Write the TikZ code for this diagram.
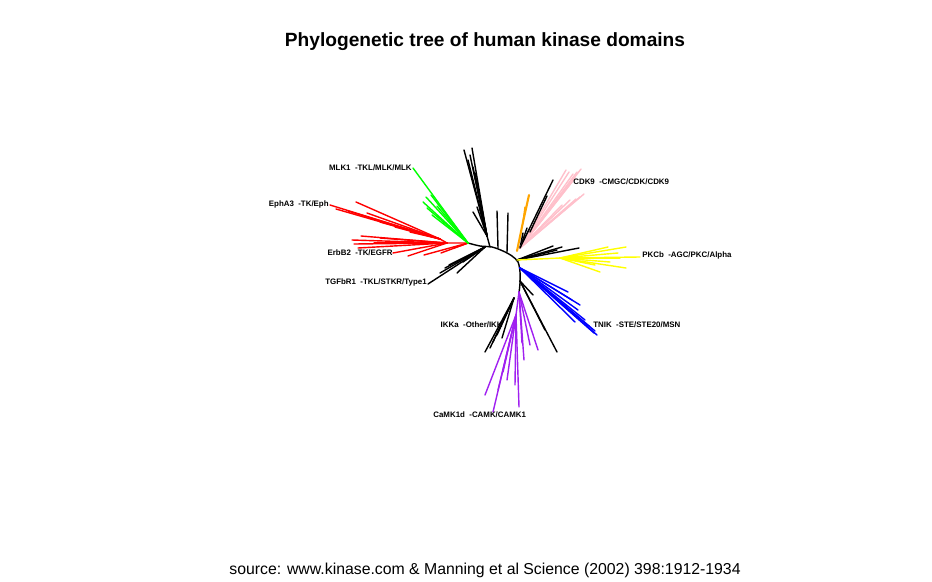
\documentclass[tikz,border=0pt]{standalone}
\usepackage{fontspec}
\setmainfont{Liberation Sans}
\usepackage{xcolor}
\definecolor{tkred}{HTML}{FF0000}
\definecolor{tklgreen}{HTML}{00FF00}
\definecolor{cmgcpink}{HTML}{FFC0CB}
\definecolor{ckorange}{HTML}{FFA500}
\definecolor{agcyellow}{HTML}{FFFF00}
\definecolor{steblue}{HTML}{0000FF}
\definecolor{camkpurple}{HTML}{A020F0}

\begin{document}
\begin{tikzpicture}[x=0.02cm, y=-0.02cm,
    branch/.style={line width=0.8pt, line cap=round},
    tiplabel/.style={font=\bfseries\fontsize{4.5}{5}\selectfont, inner sep=0pt},
    title/.style={font=\bfseries\fontsize{10.9}{13}\selectfont},
    source/.style={font=\fontsize{9}{11}\selectfont}
]
\useasboundingbox (0,0) rectangle (932,581);

% Title and source
\node[title] (title) at (485,42) {Phylogenetic tree of human kinase domains};
\node[source] (source) at (485,570) {source: www.kinase.com \& Manning et al Science (2002) 398:1912-1934};

% Clade roots
\coordinate (tkroot) at (468,243);
\coordinate (ephnode) at (440,239);
\coordinate (egfrnode) at (447,243);
\coordinate (stkrroot) at (485,247);
\coordinate (topnode) at (487,236);
\coordinate (topbase) at (490,247);
\coordinate (orroot) at (517,251);
\coordinate (ornode) at (523,222);
\coordinate (cmgcroot) at (520,248);
\coordinate (agcroot) at (517,260);
\coordinate (agcnode) at (560,258);
\coordinate (steroot) at (520,268);
\coordinate (steother) at (520,281);
\coordinate (camkroot) at (519,292);
\coordinate (camknode) at (516,315);
\coordinate (ikkroot) at (514,298);

% Backbone
\draw[branch] plot[smooth] coordinates {(468,243) (480,246) (492,247) (503,251) (512,256) (518,262) (520,272) (520,283) (519,293)};

% TK (red)
\draw[branch, tkred] (tkroot) -- (egfrnode) -- (ephnode);
\foreach \tx/\ty in {330/205, 356/202, 336/209, 367/213, 348/211, 380/222, 395/227, 410/232}
  \draw[branch, tkred] (ephnode) -- (\tx,\ty);
\foreach \tx/\ty in {352/240, 354/244, 361/236, 374/243, 358/248, 393/253, 408/256, 380/238}
  \draw[branch, tkred] (egfrnode) -- (\tx,\ty);
\foreach \tx/\ty in {424/255, 441/253, 454/248}
  \draw[branch, tkred] (tkroot) -- (\tx,\ty);

% TKL/MLK (green)
\foreach \tx/\ty in {413/168, 423/202, 426/197, 431/195, 427/208, 432/215, 437/206}
  \draw[branch, tklgreen] (tkroot) -- (\tx,\ty);

% TKL/STKR (black)
\foreach \tx/\ty in {428/284, 440/273, 445/268, 449/265, 457/273, 463/262, 470/256}
  \draw[branch] (stkrroot) -- (\tx,\ty);

% upper black group
\draw[branch] (topbase) -- (topnode);
\foreach \tx/\ty in {464/150, 472/148, 468/160, 473/167, 475/173, 477/183, 473/212, 477/207, 480/210, 470/155}
  \draw[branch] (topnode) -- (\tx,\ty);
\draw[branch] (498,248) -- (497,211);
\draw[branch] (507,252) -- (508,213);

% orange
\draw[branch, ckorange, line width=1.2pt] (orroot) -- (ornode) -- (529,195);
\draw[branch, ckorange] (ornode) -- (525,207);
\foreach \tx/\ty in {523/233, 527/228, 529/230}
  \draw[branch] (cmgcroot) -- (\tx,\ty);

% CMGC (pink)
\foreach \tx/\ty in {566/170, 569/172, 573/174, 581/169, 577/172, 575/178, 572/182, 584/194, 580/197, 576/199, 570/200, 562/205}
  \draw[branch, cmgcpink] (cmgcroot) -- (\tx,\ty);
\draw[branch] (cmgcroot) -- (553,180);
\draw[branch] (530,232) -- (547,196);

% AGC (black + yellow)
\foreach \tx/\ty in {553/246, 562/247, 579/248, 557/250}
  \draw[branch] (agcroot) -- (\tx,\ty);
\draw[branch, agcyellow] (agcroot) -- (agcnode);
\foreach \tx/\ty in {608/247, 626/247, 618/253, 640/257, 626/268, 600/272, 610/262, 620/258, 595/265}
  \draw[branch, agcyellow] (agcnode) -- (\tx,\ty);

% STE (blue)
\foreach \tx/\ty in {568/292, 580/305, 575/322, 597/335, 594/333, 595/331, 590/327, 585/320, 578/310, 572/300}
  \draw[branch, steblue] (steroot) -- (\tx,\ty);
\foreach \tx/\ty in {533/295, 557/352, 545/330}
  \draw[branch] (steother) -- (\tx,\ty);

% CAMK (purple)
\draw[branch, camkpurple] (camkroot) -- (camknode);
\foreach \tx/\ty in {485/395, 493/412, 498/390, 507/380, 503/372, 519/407, 515/385}
  \draw[branch, camkpurple] (camknode) -- (\tx,\ty);
\foreach \tx/\ty in {538/350, 524/360, 522/343, 530/345}
  \draw[branch, camkpurple] (camkroot) -- (\tx,\ty);

% Other/IKK (black)
\foreach \tx/\ty in {485/352, 502/338, 490/348, 497/335, 493/342}
  \draw[branch] (ikkroot) -- (\tx,\ty);

% Tip labels
\node[tiplabel, anchor=east] (mlk1) at (412,168) {MLK1~~-TKL/MLK/MLK};
\node[tiplabel, anchor=east] (epha3) at (329,204) {EphA3~~-TK/Eph};
\node[tiplabel, anchor=east] (erbb2) at (393,253) {ErbB2~~-TK/EGFR};
\node[tiplabel, anchor=east] (tgfbr1) at (427,282) {TGFbR1~~-TKL/STKR/Type1};
\node[tiplabel, anchor=west] (cdk9) at (573,182) {CDK9~~-CMGC/CDK/CDK9};
\node[tiplabel, anchor=west] (pkcb) at (642,255) {PKCb~~-AGC/PKC/Alpha};
\node[tiplabel, anchor=west] (tnik) at (593,325) {TNIK~~-STE/STE20/MSN};
\node[tiplabel, anchor=east] (ikka) at (503,325) {IKKa~~-Other/IKK};
\node[tiplabel, anchor=west] (camk1d) at (433,415) {CaMK1d~~-CAMK/CAMK1};

\end{tikzpicture}
\end{document}
